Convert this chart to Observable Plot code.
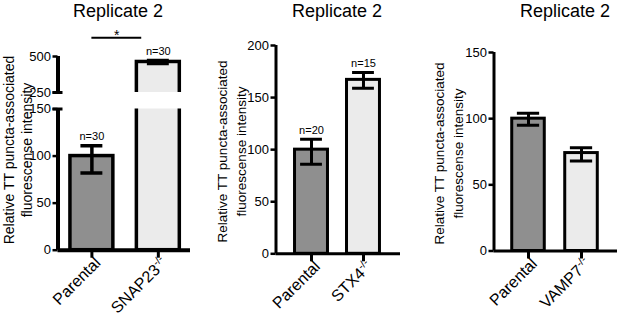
<!DOCTYPE html>
<html><head><meta charset="utf-8">
<script src="https://cdn.jsdelivr.net/npm/d3@7"></script>
<script src="https://cdn.jsdelivr.net/npm/@observablehq/plot@0.6"></script>
<style>
body{margin:0;background:#fff;}
#fig{position:relative;width:617px;height:319px;overflow:hidden;font-family:"Liberation Sans",Arial,sans-serif;color:#000;background:#fff;}
#fig svg{position:absolute;}
</style></head><body><div id="fig"></div><script>
// ---- data ----
const snapGroups = ["Parental", "SNAP23-/-"];
const snapMean = [100, 462];
const snapLow = [82, 452];
const snapHigh = [111, 472];
const snapN = [30, 30];
const snapSig = [{from: 0, to: 0.75, y: 630, label: "*"}];

const stxGroups = ["Parental", "STX4-/-"];
const stxMean = [100, 167];
const stxLow = [86, 159];
const stxHigh = [110, 174];
const stxN = [20, 15];

const vampGroups = ["Parental", "VAMP7-/-"];
const vampMean = [100, 74];
const vampLow = [95, 68];
const vampHigh = [104, 78];

const barColors = ["#8f8f8f", "#ebebeb"];
const titleText = "Replicate 2";
const yLabelLines = ["Relative TT puncta-associated", "fluorescense intensity"];

// ---- helpers ----
const fig = document.getElementById("fig");
const NS = "http://www.w3.org/2000/svg";
const FONT = "Liberation Sans, Arial, sans-serif";

function rows(groups, mean, low, high, n) {
  return groups.map((g, i) => ({i, group: g, mean: mean[i], low: low[i], high: high[i], n: n ? n[i] : null}));
}

function superscript(svg) {
  svg.querySelectorAll("text").forEach(t => {
    const s = t.textContent;
    if (s.endsWith("-/-")) {
      t.textContent = s.slice(0, -3);
      const ts = document.createElementNS(NS, "tspan");
      ts.setAttribute("font-size", "10.5");
      ts.setAttribute("dy", "-6");
      ts.textContent = "-/-";
      t.appendChild(ts);
    }
  });
}

function panel(o) {
  const {data, left, top, width, height, mt, mb, ml, mr, xDomain, yDomain, yTicks,
         half, cap, sw, axisW, showX, labelFilter, breakAt = null, extra = []} = o;
  const groups = data.map(d => d.group);
  const marks = [
    Plot.rect(data, {x1: d => d.i - half, x2: d => d.i + half, y1: 0, y2: "mean",
      fill: "group", stroke: "black", strokeWidth: sw, clip: true}),
    Plot.ruleX(data, {x: "i", y1: "low", y2: "high", stroke: "black", strokeWidth: sw, clip: true}),
    Plot.ruleY(data, {y: "high", x1: d => d.i - cap, x2: d => d.i + cap, stroke: "black", strokeWidth: sw, clip: true}),
    Plot.ruleY(data, {y: "low", x1: d => d.i - cap, x2: d => d.i + cap, stroke: "black", strokeWidth: sw, clip: true}),
    Plot.text(data.filter(d => d.n != null && labelFilter(d)), {x: "i", y: "high", text: d => `n=${d.n}`, dy: -9, fontSize: 11}),
    Plot.axisY({ticks: yTicks, tickSize: 5, tickPadding: 2, strokeWidth: 2.5, fontSize: 13, label: null}),
    Plot.ruleX([xDomain[0]], {stroke: "black", strokeWidth: axisW}),
    ...extra
  ];
  if (breakAt != null) {
    // end cap of a broken axis segment
    marks.push(Plot.ruleY([breakAt], {x1: xDomain[0], x2: xDomain[0], insetLeft: -5, insetRight: -5,
      stroke: "black", strokeWidth: 3}));
  }
  if (showX) {
    marks.push(Plot.ruleY([yDomain[0]], {stroke: "black", strokeWidth: axisW}));
    marks.push(Plot.axisX({ticks: data.map(d => d.i), tickSize: 8, strokeWidth: 3, fill: "none", label: null}));
    marks.push(Plot.text(data, {x: "i", frameAnchor: "bottom", text: "group", rotate: -45,
      textAnchor: "end", lineAnchor: "middle", dx: 6, dy: 10, fontSize: 16}));
  }
  const svg = Plot.plot({
    width, height, marginTop: mt, marginBottom: mb, marginLeft: ml, marginRight: mr,
    style: {background: "transparent", color: "black", fontFamily: FONT, overflow: "visible"},
    x: {type: "linear", domain: xDomain, axis: null},
    y: {type: "linear", domain: yDomain, axis: null},
    color: {domain: groups, range: barColors},
    marks
  });
  superscript(svg);
  svg.style.left = left + "px";
  svg.style.top = top + "px";
  fig.appendChild(svg);
}

// overlay for titles and y-axis labels
const overlay = document.createElementNS(NS, "svg");
overlay.setAttribute("width", 617);
overlay.setAttribute("height", 319);
overlay.style.left = "0px"; overlay.style.top = "0px";
overlay.style.fontFamily = FONT;
overlay.style.pointerEvents = "none";

function addTitle(cx) {
  const t = document.createElementNS(NS, "text");
  t.setAttribute("x", cx);
  t.setAttribute("y", 16.5);
  t.setAttribute("text-anchor", "middle");
  t.setAttribute("font-size", 18);
  t.textContent = titleText;
  overlay.appendChild(t);
}
function addYLabel(xs, cy, fs) {
  yLabelLines.forEach((l, k) => {
    const t = document.createElementNS(NS, "text");
    t.setAttribute("transform", `translate(${xs[k]},${cy}) rotate(-90)`);
    t.setAttribute("text-anchor", "middle");
    t.setAttribute("dominant-baseline", "central");
    t.setAttribute("font-size", fs);
    t.textContent = l;
    overlay.appendChild(t);
  });
}

// ---- panel 1: SNAP23 (broken axis) ----
const snapData = rows(snapGroups, snapMean, snapLow, snapHigh, snapN);
const p1x = [-0.51, 1.484];
panel({data: snapData, left: 0, top: 100, width: 200, height: 219,
  mt: 8.5, mb: 69.3, ml: 57.5, mr: 10, xDomain: p1x, yDomain: [0, 150], yTicks: [0, 50, 100, 150],
  half: 0.323, cap: 0.165, sw: 3.5, axisW: 4, showX: true, labelFilter: d => d.high <= 150, breakAt: 150});
panel({data: snapData, left: 0, top: 0, width: 200, height: 100,
  mt: 56, mb: 8, ml: 57.5, mr: 10, xDomain: p1x, yDomain: [250, 500], yTicks: [250, 500],
  half: 0.323, cap: 0.165, sw: 3.5, axisW: 4, showX: false, labelFilter: d => d.high > 150, breakAt: 250,
  extra: [
    Plot.ruleY(snapSig, {y: "y", x1: "from", x2: "to", stroke: "black", strokeWidth: 2}),
    Plot.text(snapSig, {x: d => (d.from + d.to) / 2, y: "y", text: "label", dy: -2.5, fontSize: 14})
  ]});

// ---- panel 2: STX4 ----
panel({data: rows(stxGroups, stxMean, stxLow, stxHigh, stxN), left: 200, top: 0, width: 207, height: 319,
  mt: 45, mb: 65.7, ml: 75.5, mr: 7, xDomain: [-0.683, 1.712], yDomain: [0, 200], yTicks: [0, 50, 100, 150, 200],
  half: 0.317, cap: 0.21, sw: 3, axisW: 3, showX: true, labelFilter: () => true});

// ---- panel 3: VAMP7 ----
panel({data: rows(vampGroups, vampMean, vampLow, vampHigh, null), left: 407, top: 0, width: 210, height: 319,
  mt: 52, mb: 68.5, ml: 86.5, mr: 0, xDomain: [-0.651, 1.679], yDomain: [0, 150], yTicks: [0, 50, 100, 150],
  half: 0.307, cap: 0.21, sw: 3, axisW: 3, showX: true, labelFilter: () => true});

addTitle(118); addTitle(337); addTitle(565);
addYLabel([8.5, 27], 150, 14);
addYLabel([222.5, 241.5], 151.5, 13.5);
addYLabel([439.5, 458], 153.5, 13.5);
fig.appendChild(overlay);
</script></body></html>
